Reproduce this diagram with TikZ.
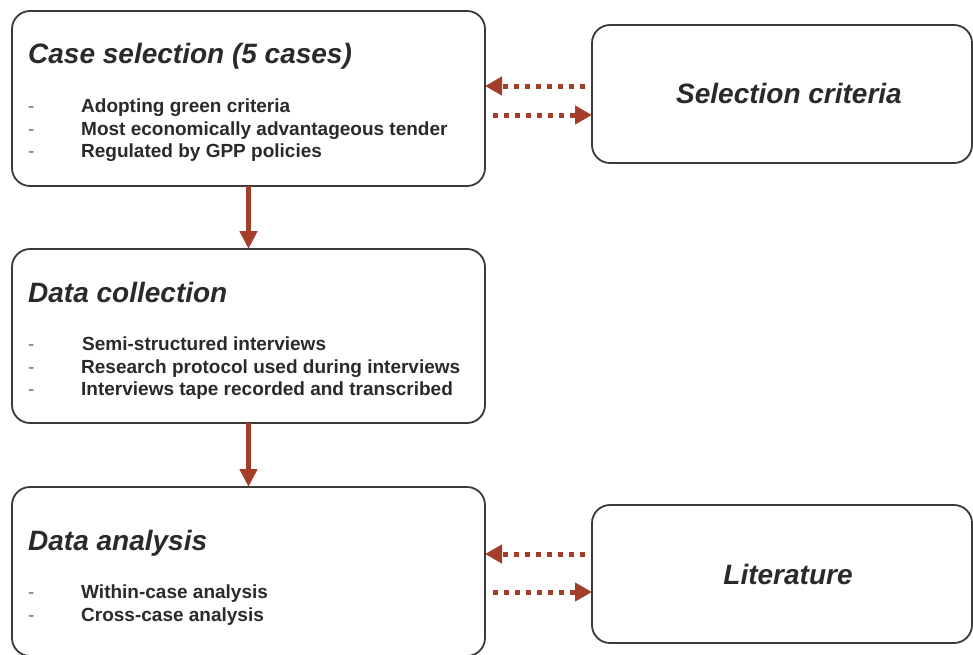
\documentclass[tikz,border=0pt]{standalone}
\usepackage{fontspec}
\setmainfont{Liberation Sans}
\usetikzlibrary{arrows.meta}
\definecolor{arrowred}{RGB}{163,62,42}
\definecolor{boxline}{RGB}{58,58,58}
\definecolor{txt}{RGB}{42,42,42}
\definecolor{dashgray}{RGB}{110,110,110}
\begin{document}
\begin{tikzpicture}[x=1pt,y=-1pt,
  box/.style={draw=boxline, line width=1.8pt, rounded corners=18pt, rectangle, anchor=north west, inner sep=0pt, outer sep=0pt, fill=white},
  title/.style={anchor=base west, inner sep=0pt, font=\fontsize{28}{30}\selectfont\bfseries\itshape, text=txt},
  ctitle/.style={anchor=base, inner sep=0pt, font=\fontsize{28}{30}\selectfont\bfseries\itshape, text=txt},
  item/.style={anchor=base west, inner sep=0pt, font=\fontsize{19}{22}\selectfont\bfseries, text=txt},
  dashmark/.style={anchor=base west, inner sep=0pt, font=\fontsize{19}{22}\selectfont, text=dashgray},
  flow/.style={draw=arrowred, line width=4.5pt, -{Triangle[length=18pt,width=17pt]}},
  dflow/.style={draw=arrowred, line width=5pt, dash pattern=on 5pt off 6pt, -{Triangle[length=17pt,width=18pt]}},
]
\useasboundingbox (0,0) rectangle (973,654);

% boxes
\node[box, minimum width=473pt, minimum height=175pt] (cs) at (12,11) {};
\node[box, minimum width=380pt, minimum height=138pt] (sc) at (592,25) {};
\node[box, minimum width=473pt, minimum height=174pt] (dc) at (12,249) {};
\node[box, minimum width=473pt, minimum height=169pt] (da) at (12,487) {};
\node[box, minimum width=380pt, minimum height=138pt] (lit) at (592,505) {};

% case selection
\node[title] (cst) at (28,63) {Case selection (5 cases)};
\node[dashmark] (csd1) at (28,112) {-};
\node[dashmark] (csd2) at (28,135) {-};
\node[dashmark] (csd3) at (28,157) {-};
\node[item] (csi1) at (81,112) {Adopting green criteria};
\node[item] (csi2) at (81,135) {Most economically advantageous tender};
\node[item] (csi3) at (81,157) {Regulated by GPP policies};

% selection criteria
\node[ctitle] (sct) at (789,103) {Selection criteria};

% data collection
\node[title] (dct) at (28,302) {Data collection};
\node[dashmark] (dcd1) at (28,350) {-};
\node[dashmark] (dcd2) at (28,373) {-};
\node[dashmark] (dcd3) at (28,395) {-};
\node[item] (dci1) at (82,350) {Semi-structured interviews};
\node[item] (dci2) at (81,373) {Research protocol used during interviews};
\node[item] (dci3) at (81,395) {Interviews tape recorded and transcribed};

% data analysis
\node[title] (dat) at (28,550) {Data analysis};
\node[dashmark] (dad1) at (28,598) {-};
\node[dashmark] (dad2) at (28,621) {-};
\node[item] (dai1) at (81,598) {Within-case analysis};
\node[item] (dai2) at (81,621) {Cross-case analysis};

% literature
\node[ctitle] (litt) at (788,584) {Literature};

% solid flow arrows
\draw[flow] (cs.south) -- (dc.north);
\draw[flow] (dc.south) -- (da.north);

% dotted two-way arrows
\draw[dflow, shorten <=7pt] (sc.west |- 0,86) -- (cs.east |- 0,86);
\draw[dflow, shorten <=8pt] (cs.east |- 0,115) -- (sc.west |- 0,115);
\draw[dflow, shorten <=7pt] (lit.west |- 0,554) -- (da.east |- 0,554);
\draw[dflow, shorten <=8pt] (da.east |- 0,592) -- (lit.west |- 0,592);
\end{tikzpicture}
\end{document}
